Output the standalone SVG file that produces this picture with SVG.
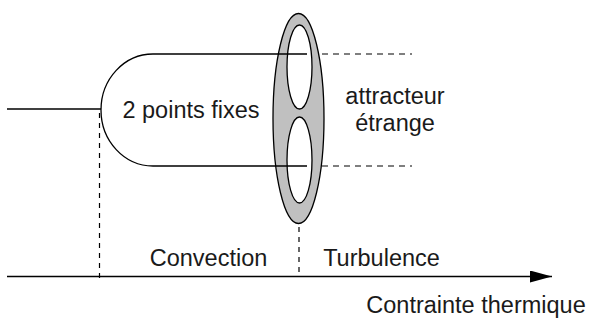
<svg xmlns="http://www.w3.org/2000/svg" width="595" height="320" viewBox="0 0 595 320">
<defs>
<style>
.ln{stroke:#000;stroke-width:1.3;fill:none}
.dash{stroke:#000;stroke-width:1.2;fill:none;stroke-dasharray:6 5}
.vdash{stroke:#000;stroke-width:1.2;fill:none;stroke-dasharray:5 5}
.t{font-family:"Liberation Sans",Arial,sans-serif;font-size:23.5px;fill:#1a1a1a}
</style>
<marker id="arr" markerWidth="22" markerHeight="12" refX="22" refY="6" orient="auto" markerUnits="userSpaceOnUse">
<path d="M0,0 L22,6 L0,12 Z" fill="#000"/>
</marker>
</defs>
<g id="attractor">
<ellipse cx="298.5" cy="118.5" rx="25.5" ry="105" fill="#c0c0c0" stroke="#000" stroke-width="1.3"/>
<ellipse cx="299.5" cy="67" rx="12.5" ry="42" fill="#fff" stroke="#000" stroke-width="1.3"/>
<ellipse cx="299.5" cy="160" rx="12.5" ry="43" fill="#fff" stroke="#000" stroke-width="1.3"/>
</g>
<g id="fixed-points">
<path class="ln" d="M307,54 L153,54 A52,56 0 0 0 153,166 L307,166"/>
<text class="t" x="191" y="118" text-anchor="middle">2 points fixes</text>
</g>
<g id="connectors">
<line class="ln" x1="7" y1="109" x2="101" y2="109"/>
<line class="dash" x1="322" y1="54" x2="412" y2="54"/>
<line class="dash" x1="322" y1="166" x2="412" y2="166"/>
<line class="vdash" x1="99.5" y1="113" x2="99.5" y2="283"/>
<line class="vdash" x1="299" y1="227" x2="299" y2="277"/>
<line class="ln" x1="7" y1="276.5" x2="552" y2="276.5" marker-end="url(#arr)"/>
</g>
<g id="labels">
<text class="t" x="395" y="104" text-anchor="middle">attracteur</text>
<text class="t" x="395" y="131" text-anchor="middle">étrange</text>
<text class="t" x="208.5" y="266" text-anchor="middle">Convection</text>
<text class="t" x="381.5" y="266" text-anchor="middle">Turbulence</text>
<text class="t" x="476" y="313" text-anchor="middle">Contrainte thermique</text>
</g>
</svg>
